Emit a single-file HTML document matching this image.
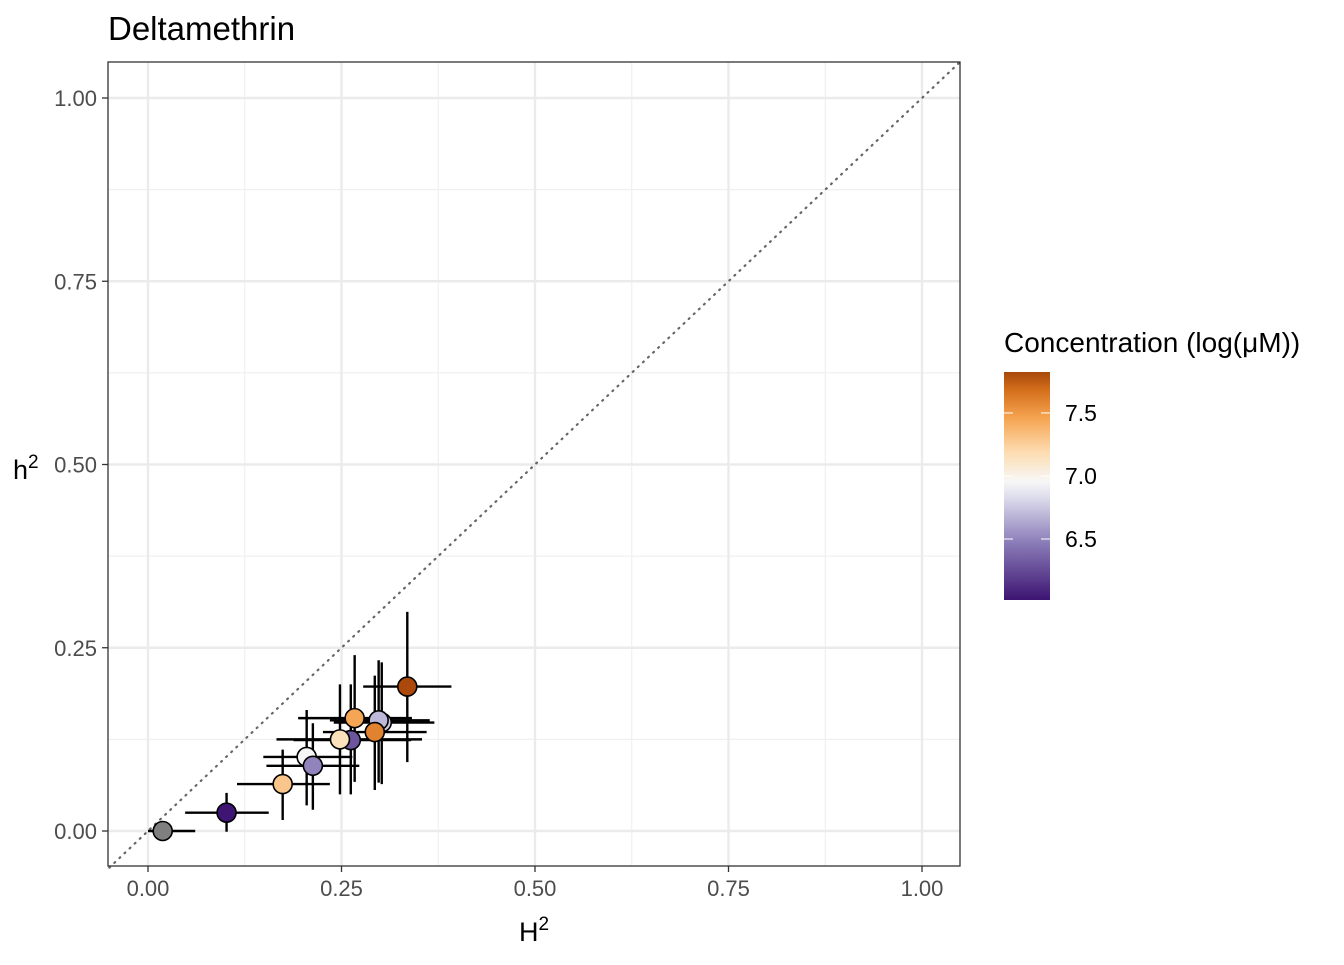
<!DOCTYPE html>
<html><head><meta charset="utf-8"><style>
body{margin:0;background:#fff;font-family:"Liberation Sans",Arial,sans-serif}
</style></head><body>
<svg id="c" width="1344" height="960" xmlns="http://www.w3.org/2000/svg">
<defs><linearGradient id="lg" x1="0" y1="1" x2="0" y2="0">
<stop offset="0" stop-color="#3d1472"/><stop offset="0.25" stop-color="#8a7cb8"/><stop offset="0.45" stop-color="#dddcec"/><stop offset="0.52" stop-color="#f7f7f7"/><stop offset="0.65" stop-color="#fddcb0"/><stop offset="0.8" stop-color="#f5a350"/><stop offset="0.92" stop-color="#d46f1c"/><stop offset="1" stop-color="#a8480a"/>
</linearGradient></defs>
<text x="108" y="40" font-size="33" fill="#000">Deltamethrin</text>
<g id="plot"></g>
<text x="534" y="941" font-size="27" text-anchor="middle">H<tspan dy="-11" font-size="19">2</tspan></text>
<text x="13" y="479" font-size="27">h<tspan dy="-11" font-size="19">2</tspan></text>
<g>
<text x="1004" y="352" font-size="28">Concentration (log(μM))</text>
<rect x="1004" y="372" width="46" height="228" fill="url(#lg)"/>
<g id="leg"></g>
</g>
</svg>
<script>
const hx=[0.019,0.1015,0.174,0.205,0.213,0.262,0.248,0.267,0.302,0.298,0.293,0.335];
const hy=[0.0,0.025,0.064,0.101,0.089,0.124,0.125,0.154,0.148,0.151,0.135,0.197];
const xlo=[0.0,0.048,0.115,0.149,0.153,0.188,0.166,0.194,0.24,0.235,0.226,0.278];
const xhi=[0.061,0.156,0.235,0.264,0.273,0.34,0.354,0.341,0.37,0.364,0.36,0.392];
const ylo=[0.0,-0.001,0.015,0.035,0.029,0.05,0.05,0.067,0.064,0.066,0.056,0.094];
const yhi=[0.0,0.052,0.111,0.165,0.147,0.2,0.2,0.24,0.23,0.233,0.212,0.299];
const conc=[null,6.02,7.3,6.95,6.5,6.3,7.15,7.45,6.75,6.7,7.6,7.82];
const ticks=[0,0.25,0.5,0.75,1];
const tickLabels=["0.00","0.25","0.50","0.75","1.00"];
const legTicks=[6.5,7.0,7.5];
const legLabels=["6.5","7.0","7.5"];
const NS="http://www.w3.org/2000/svg";
const X=v=>148+v*774, Y=v=>831-v*733;
const cmin=6.016,cmax=7.825;
const stops=[[0,[61,20,114]],[0.25,[138,124,184]],[0.45,[221,220,236]],[0.52,[247,247,247]],[0.65,[253,220,176]],[0.8,[245,163,80]],[0.92,[212,111,28]],[1,[168,72,10]]];
function col(c){if(c==null)return "#7f7f7f";let t=(c-cmin)/(cmax-cmin);t=Math.max(0,Math.min(1,t));
for(let i=1;i<stops.length;i++){if(t<=stops[i][0]){const a=stops[i-1],b=stops[i],f=(t-a[0])/(b[0]-a[0]);return "rgb("+a[1].map((v,k)=>Math.round(v+(b[1][k]-v)*f)).join(",")+")";}}return "rgb(168,72,10)";}
function mk(t,a,p){const e=document.createElementNS(NS,t);for(const k in a)e.setAttribute(k,a[k]);p.appendChild(e);return e;}
const g=document.getElementById('plot');
const bg=mk('rect',{x:108,y:62,width:852,height:804,fill:'#fff'},g);


for(let i=0;i<4;i++){const m=(ticks[i]+ticks[i+1])/2;
 const a=mk('line',{x1:X(m),x2:X(m),y1:62,y2:866,stroke:'#f0f0f0','stroke-width':1.2},g);
 
 
 const b=mk('line',{x1:108,x2:960,y1:Y(m),y2:Y(m),stroke:'#f0f0f0','stroke-width':1.2},g);
 
 }
ticks.forEach((t,i)=>{
 const a=mk('line',{x1:X(t),x2:X(t),y1:62,y2:866,stroke:'#ebebeb','stroke-width':2.4},g);
 
 
 const b=mk('line',{x1:108,x2:960,y1:Y(t),y2:Y(t),stroke:'#ebebeb','stroke-width':2.4},g);
 
 
 const tx=mk('line',{x1:X(t),x2:X(t),y1:866,y2:872,stroke:'#333','stroke-width':1.3},g);
 
 
 const ty=mk('line',{x1:102,x2:108,y1:Y(t),y2:Y(t),stroke:'#333','stroke-width':1.3},g);
 
 
 const lx=mk('text',{x:X(t),y:896,'font-size':22,fill:'#4d4d4d','text-anchor':'middle'},g);lx.textContent=tickLabels[i];
 
 
 const ly=mk('text',{x:97,y:Y(t)+8,'font-size':22,fill:'#4d4d4d','text-anchor':'end'},g);ly.textContent=tickLabels[i];
 
 
});
const d=mk('line',{x1:X(-0.05),y1:Y(-0.05),x2:X(1.05),y2:Y(1.05),stroke:'#666','stroke-width':2.2,'stroke-dasharray':'1 6','stroke-linecap':'round'},g);


const clip=mk('clipPath',{id:'cp'},g);mk('rect',{x:108,y:62,width:852,height:804},clip);
const dg=mk('g',{'clip-path':'url(#cp)'},g);
for(let i=0;i<hx.length;i++){
 const eh=mk('line',{x1:X(xlo[i]),x2:X(xhi[i]),y1:Y(hy[i]),y2:Y(hy[i]),stroke:'#000','stroke-width':2.4},dg);
 
 
 const ev=mk('line',{x1:X(hx[i]),x2:X(hx[i]),y1:Y(ylo[i]),y2:Y(yhi[i]),stroke:'#000','stroke-width':2.4},dg);
 
 
}
for(let i=0;i<hx.length;i++){
 const c=mk('circle',{cx:X(hx[i]),cy:Y(hy[i]),r:9.5,fill:col(conc[i]),stroke:'#000','stroke-width':1.6},dg);
 
 
}
const br=mk('rect',{x:108,y:62,width:852,height:804,fill:'none',stroke:'#333','stroke-width':1.3},g);


const lg=document.getElementById('leg');
legTicks.forEach((t,i)=>{const y=600-(t-cmin)/(cmax-cmin)*228;
 const a=mk('line',{x1:1004,x2:1013,y1:y,y2:y,stroke:'#fff','stroke-width':1},lg);
 
 
 const b=mk('line',{x1:1041,x2:1050,y1:y,y2:y,stroke:'#fff','stroke-width':1},lg);
 
 
 const tx=mk('text',{x:1065,y:y+8,'font-size':23,fill:'#000'},lg);tx.textContent=legLabels[i];
 
 
});
</script>
</body></html>
